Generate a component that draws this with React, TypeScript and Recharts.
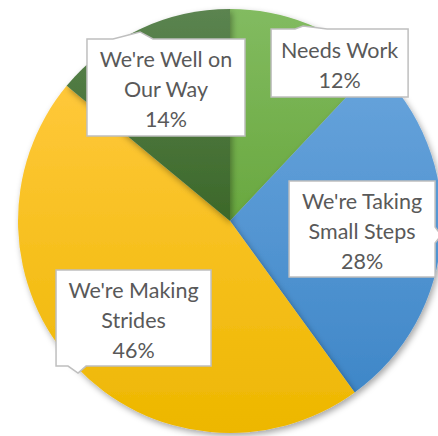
import { PieChart, Pie, Cell } from "recharts";

const categories = [
  "Needs Work",
  "We're Taking Small Steps",
  "We're Making Strides",
  "We're Well on Our Way",
];
const shares = [12, 28, 46, 14];
const labelLines = [
  ["Needs Work"],
  ["We're Taking", "Small Steps"],
  ["We're Making", "Strides"],
  ["We're Well on", "Our Way"],
];

// top / bottom colour of each slice gradient
const gradients = [
  ["#82bb60", "#69a83f"],
  ["#68a4dc", "#3f87c8"],
  ["#ffc83a", "#edb700"],
  ["#5b8450", "#3c6829"],
];

// callout boxes: centre as fraction of the radius, size, pointer
const callouts = [
  { fx: 0.517, fy: -0.745, w: 137, h: 68, side: "top", p1: 24, p2: 56, tx: 32, ty: -3 },
  { fx: 0.623, fy: 0.038, w: 146, h: 96, side: "right", p1: 46, p2: 62, tx: 152, ty: 54 },
  { fx: -0.455, fy: 0.458, w: 155, h: 96, side: "bottom", p1: 12, p2: 30, tx: 22, ty: 103 },
  { fx: -0.302, fy: -0.63, w: 158, h: 97, side: "top", p1: 26, p2: 66, tx: 53, ty: -7 },
];

const chartData = categories.map((name, i) => ({ name, value: shares[i] }));

const boxPath = (x0: number, y0: number, c: (typeof callouts)[number]) => {
  const x1 = x0 + c.w;
  const y1 = y0 + c.h;
  if (c.side === "top") {
    return `M${x0},${y0} L${x0 + c.p1},${y0} L${x0 + c.tx},${y0 + c.ty} L${x0 + c.p2},${y0} L${x1},${y0} L${x1},${y1} L${x0},${y1} Z`;
  }
  if (c.side === "right") {
    return `M${x0},${y0} L${x1},${y0} L${x1},${y0 + c.p1} L${x0 + c.tx},${y0 + c.ty} L${x1},${y0 + c.p2} L${x1},${y1} L${x0},${y1} Z`;
  }
  return `M${x0},${y0} L${x1},${y0} L${x1},${y1} L${x0 + c.p2},${y1} L${x0 + c.tx},${y0 + c.ty} L${x0 + c.p1},${y1} L${x0},${y1} Z`;
};

const renderLabel = (props: any) => {
  const { cx, cy, outerRadius, index, value } = props;
  const c = callouts[index];
  const mx = cx + c.fx * outerRadius;
  const my = cy + c.fy * outerRadius;
  const x0 = mx - c.w / 2;
  const y0 = my - c.h / 2;
  const lines = [...labelLines[index], `${value}%`];
  return (
    <g key={`lbl-${index}`}>
      <path d={boxPath(x0, y0, c)} fill="#ffffff" stroke="#bfbfbf" strokeWidth={1.5} />
      {lines.map((t, i) => (
        <text
          key={i}
          x={mx}
          y={my + 2 + (i - (lines.length - 1) / 2) * 30}
          textAnchor="middle"
          dominantBaseline="central"
          fill="#595959"
          fontSize={21.5}
          fontFamily="Lato, 'Open Sans', sans-serif"
        >
          {t}
        </text>
      ))}
    </g>
  );
};

export default function App() {
  return (
    <div style={{ position: "absolute", left: 0, top: 0, width: 438, height: 436, background: "#fff" }}>
      <PieChart width={438} height={436} margin={{ top: 0, right: 0, bottom: 0, left: 0 }}>
        <defs>
          {gradients.map((g, i) => (
            <linearGradient key={i} id={`g${i}`} x1="0" y1="0" x2="0" y2="1">
              <stop offset="0%" stopColor={g[0]} />
              <stop offset="100%" stopColor={g[1]} />
            </linearGradient>
          ))}
          <filter id="pieShadow" x="-10%" y="-10%" width="120%" height="120%">
            <feDropShadow dx="2" dy="3" stdDeviation="3" floodColor="#000" floodOpacity="0.35" />
          </filter>
        </defs>
        <Pie
          data={chartData}
          dataKey="value"
          nameKey="name"
          cx={230}
          cy={221}
          outerRadius={212}
          startAngle={90}
          endAngle={-270}
          stroke="none"
          label={renderLabel}
          labelLine={false}
          isAnimationActive={false}
          style={{ filter: "url(#pieShadow)" }}
        >
          {chartData.map((d, i) => (
            <Cell key={d.name} fill={`url(#g${i})`} />
          ))}
        </Pie>
      </PieChart>
    </div>
  );
}
